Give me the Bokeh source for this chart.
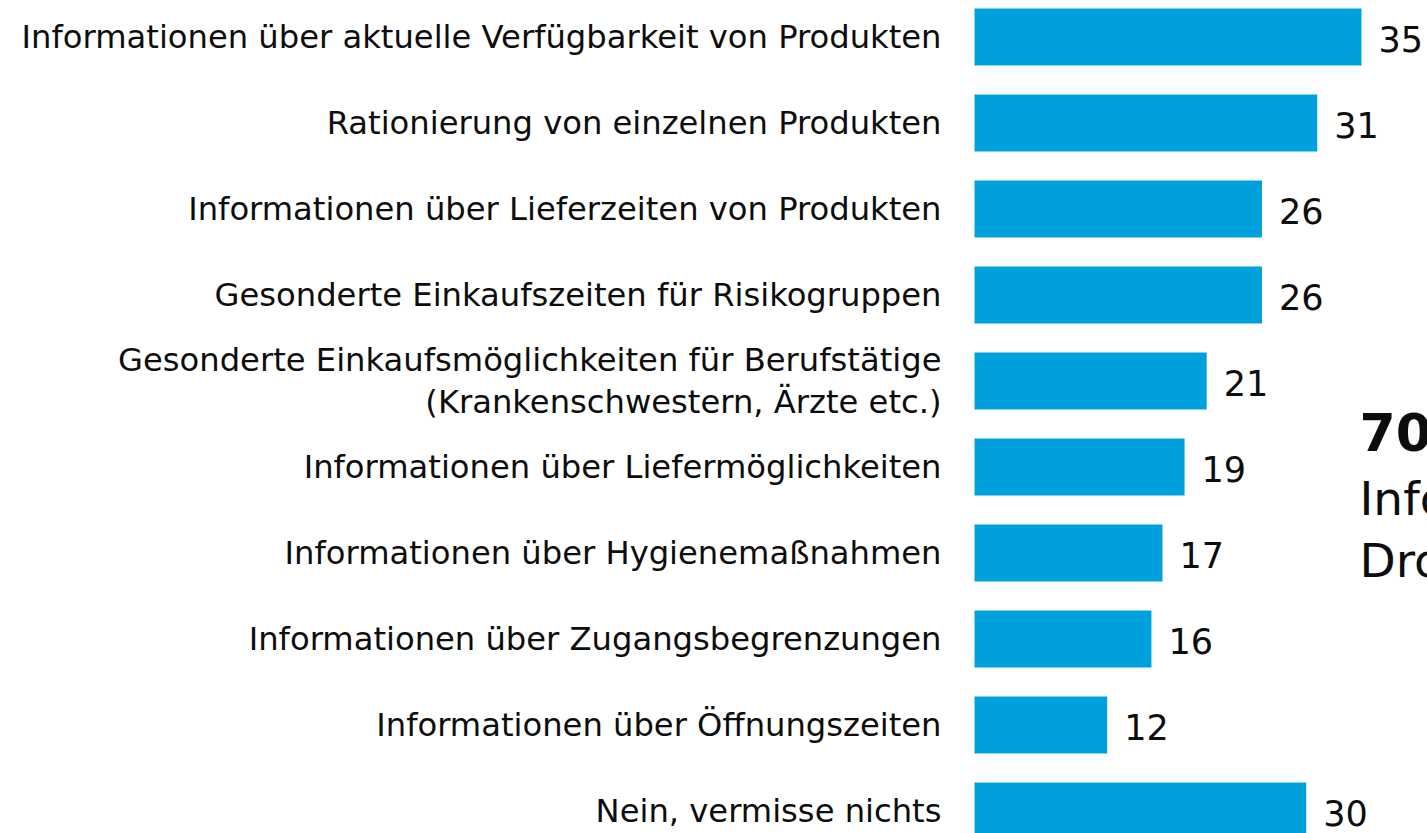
from bokeh.plotting import figure
from bokeh.models import ColumnDataSource, Range1d
from bokeh.core.properties import value
from bokeh.embed import file_html
from bokeh.resources import INLINE

categories = [
    "Informationen über aktuelle Verfügbarkeit von Produkten",
    "Rationierung von einzelnen Produkten",
    "Informationen über Lieferzeiten von Produkten",
    "Gesonderte Einkaufszeiten für Risikogruppen",
    "Gesonderte Einkaufsmöglichkeiten für Berufstätige\n(Krankenschwestern, Ärzte etc.)",
    "Informationen über Liefermöglichkeiten",
    "Informationen über Hygienemaßnahmen",
    "Informationen über Zugangsbegrenzungen",
    "Informationen über Öffnungszeiten",
    "Nein, vermisse nichts",
]
values = [35, 31, 26, 26, 21, 19, 17, 16, 12, 30]
side_lines = ["70 %", "Informationen", "Drogeriemärkte"]

FONT = "DejaVu Sans"
BAR = "#00A0DC"
TXT = "#0d0d0d"

rows = list(range(len(categories)))
src = ColumnDataSource(dict(y=rows, v=values, cat=categories,
                            lab=[str(v) for v in values]))

W, H = 1427, 833
xscale = 11.057
x0 = -974 / xscale
pitch = 86.0
ytop = -36.5 / pitch

p = figure(width=W, height=H, output_backend="svg", toolbar_location=None,
           x_range=Range1d(x0, x0 + W / xscale),
           y_range=Range1d(ytop + H / pitch, ytop),
           min_border=0, outline_line_color=None)
p.axis.visible = False
p.grid.visible = False
p.background_fill_color = "white"
p.border_fill_color = "white"

p.hbar(y="y", right="v", left=0, height=0.665, source=src,
       fill_color=BAR, line_color=None)

p.text(x=0, y="y", text="cat", source=src, x_offset=-33,
       text_align="right", text_baseline="middle",
       text_font=value(FONT), text_font_size="32.2px", text_color=TXT,
       text_line_height=1.1)

p.text(x="v", y="y", text="lab", source=src, x_offset=17, y_offset=2,
       text_align="left", text_baseline="middle",
       text_font=value(FONT), text_font_size="35px", text_color=TXT)

# side annotation (cut off at the right edge, as in the reference)
side_x = (1359 - 974) / xscale
p.text(x=[side_x], y=[(432.5 - 36.5) / pitch], text=[side_lines[0]],
       text_align="left", text_baseline="middle",
       text_font=value(FONT), text_font_size="52px", text_font_style="bold",
       text_color=TXT)
p.text(x=[side_x, side_x], y=[(497.5 - 36.5) / pitch, (560 - 36.5) / pitch],
       text=side_lines[1:],
       text_align="left", text_baseline="middle",
       text_font=value(FONT), text_font_size="47px", text_color=TXT)

open("out.html", "w").write(file_html(p, INLINE))
